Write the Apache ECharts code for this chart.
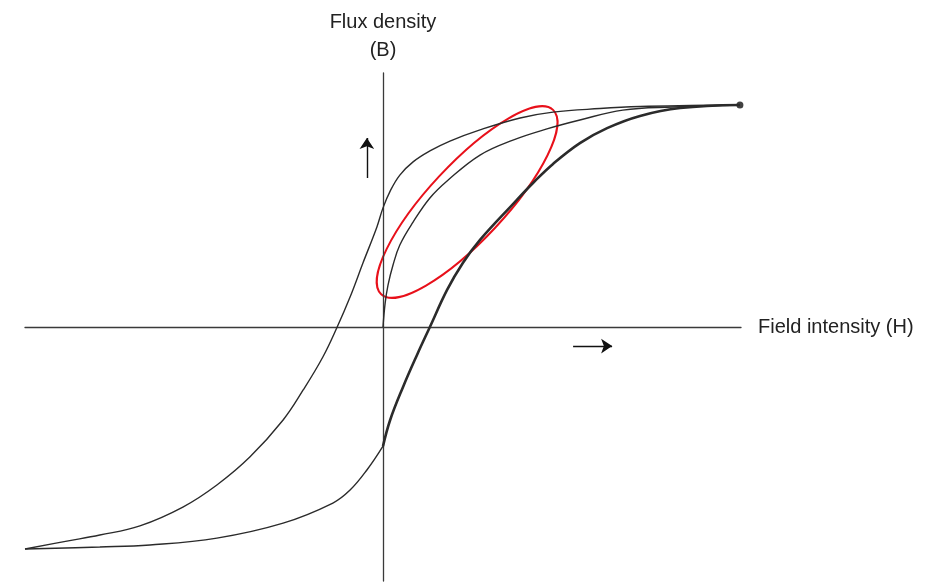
<!DOCTYPE html>
<html lang="en">
<head>
    <meta charset="utf-8">
    <title>Hysteresis loop</title>
    <script src="https://cdn.jsdelivr.net/npm/echarts@6/dist/echarts.min.js"></script>
    <style>
        html, body { margin: 0; padding: 0; background: #fff; }
        #main { width: 931px; height: 585px; }
    </style>
</head>
<body>
<div id="main"></div>
<script type="text/javascript">
    // outer loop, upper branch (from the peak back to negative saturation)
    var upperH = [9.97, 8.58, 7.18, 6.06, 4.75, 3.83, 2.71, 1.87, 1.31, 0.84, 0.47, 0.20, 0, -0.17, -0.56, -0.92, -1.28, -1.68, -2.23, -2.79, -3.72, -4.64, -5.59, -6.79, -7.91, -8.83, -10.0];
    var upperB = [8.74, 8.72, 8.68, 8.60, 8.46, 8.23, 7.76, 7.32, 6.93, 6.50, 5.98, 5.35, 4.69, 3.94, 2.52, 1.18, 0, -1.18, -2.48, -3.66, -5.12, -6.22, -7.09, -7.83, -8.19, -8.43, -8.74];
    // outer loop, lower branch: thin part left of the B axis
    var lowerLeftH = [-10.0, -7.91, -6.51, -4.64, -2.79, -1.40, -0.92, -0.45, 0];
    var lowerLeftB = [-8.74, -8.66, -8.58, -8.31, -7.72, -6.93, -6.42, -5.63, -4.69];
    // lower branch, heavy part right of the B axis
    var lowerRightH = [0, 0.20, 0.56, 0.95, 1.31, 1.79, 2.23, 2.71, 3.63, 4.19, 4.75, 5.50, 6.26, 7.18, 8.30, 9.97];
    var lowerRightB = [-4.69, -3.66, -2.36, -1.10, 0, 1.46, 2.52, 3.43, 4.84, 5.67, 6.42, 7.24, 7.83, 8.31, 8.62, 8.74];
    // curve starting from the origin
    var innerH = [0, 0.06, 0.14, 0.28, 0.47, 0.84, 1.31, 1.79, 2.71, 3.63, 4.58, 5.50, 6.70, 8.10, 9.97];
    var innerB = [0, 0.94, 1.65, 2.44, 3.23, 4.13, 5.08, 5.75, 6.77, 7.36, 7.80, 8.15, 8.54, 8.66, 8.74];
    // saturation point
    var peak = [9.97, 8.74];
    // direction arrows [from, to]
    var arrowB = [[-0.45, 5.87], [-0.45, 7.44]];
    var arrowH = [[5.31, -0.75], [6.40, -0.75]];
    // centre of the red highlight
    var highlightCenter = [2.35, 4.92];

    function pairs(xs, ys) {
        var out = [];
        for (let i = 0; i < xs.length; i++) {
            out.push([xs[i], ys[i]]);
        }
        return out;
    }

    function curve(xs, ys, width) {
        return {
            type: 'line',
            data: pairs(xs, ys),
            smooth: 0.4,
            symbol: 'none',
            silent: true,
            lineStyle: { color: '#2b2b2b', width: width || 1.4 }
        };
    }

    var myChart = echarts.init(document.getElementById('main'));

    var option = {
        backgroundColor: '#fff',
        animation: false,
        grid: { left: 25, right: 190, top: 73, bottom: 4 },
        xAxis: {
            type: 'value', min: -10, max: 10,
            name: 'Field intensity (H)',
            nameLocation: 'end',
            nameGap: 17,
            nameTextStyle: {
                fontFamily: 'Liberation Sans, Arial, sans-serif',
                fontSize: 20, color: '#222',
                verticalAlign: 'middle',
                padding: [0, 0, 8, 0]
            },
            axisLine: { onZero: true, lineStyle: { color: '#3a3a3a', width: 1.3 } },
            axisTick: { show: false },
            axisLabel: { show: false },
            splitLine: { show: false }
        },
        yAxis: {
            type: 'value', min: -10, max: 10,
            name: 'Flux density\n(B)',
            nameLocation: 'end',
            nameGap: 9,
            nameTextStyle: {
                fontFamily: 'Liberation Sans, Arial, sans-serif',
                fontSize: 20, color: '#222',
                align: 'center',
                lineHeight: 28
            },
            axisLine: { onZero: true, lineStyle: { color: '#3a3a3a', width: 1.3 } },
            axisTick: { show: false },
            axisLabel: { show: false },
            splitLine: { show: false }
        },
        series: [
            curve(upperH, upperB),
            curve(lowerLeftH, lowerLeftB),
            curve(lowerRightH, lowerRightB, 2.6),
            curve(innerH, innerB),
            {
                type: 'scatter',
                data: [peak],
                symbolSize: 7,
                silent: true,
                itemStyle: { color: '#111' }
            },
            {
                type: 'lines',
                coordinateSystem: 'cartesian2d',
                silent: true,
                symbol: ['none', 'arrow'],
                symbolSize: 11,
                lineStyle: { color: '#111', width: 1.4, opacity: 1 },
                data: [{ coords: arrowB }, { coords: arrowH }]
            }
        ]
    };

    myChart.setOption(option);

    // red ellipse round the minor loop region
    var c = myChart.convertToPixel({ gridIndex: 0 }, highlightCenter);
    myChart.setOption({
        graphic: [{
            type: 'ellipse',
            x: c[0], y: c[1],
            rotation: 47 * Math.PI / 180,
            shape: { cx: 0, cy: 0, rx: 126, ry: 38 },
            style: { fill: 'none', stroke: '#e8101a', lineWidth: 2 },
            silent: true
        }]
    });
</script>
</body>
</html>
